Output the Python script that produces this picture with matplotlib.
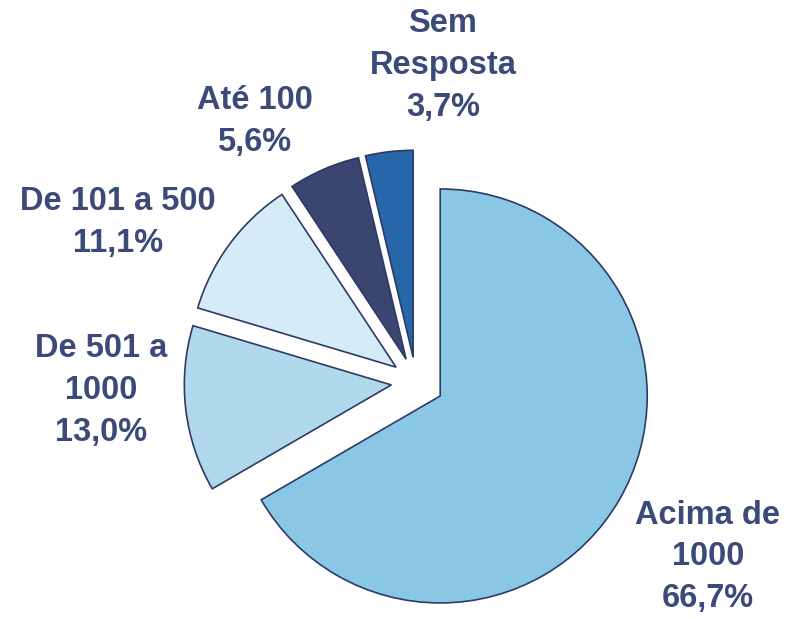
import numpy as np
import matplotlib.pyplot as plt

# dados do gráfico
categorias = ['Acima de\n1000', 'De 501 a\n1000', 'De 101 a 500', 'Até 100', 'Sem\nResposta']
percentuais = [66.7, 13.0, 11.1, 5.6, 3.7]
cores = ['#8AC7E4', '#B0DAEC', '#D5ECF6', '#3B4670', '#2766A8']

# layout (em unidades do raio)
explode = [0.135, 0.12, 0.12, 0.12, 0.12]
pos_rotulos = [(1.41, -0.845), (-1.52, -0.04), (-1.44, 0.77), (-0.78, 1.26), (0.13, 1.53)]
cor_texto = '#3B4A78'

fig = plt.figure(figsize=(7.87, 6.19), dpi=100)
ax = fig.add_axes([0, 0, 1, 1])

ax.pie(percentuais, colors=cores, explode=explode, startangle=90,
       counterclock=False, radius=1,
       wedgeprops=dict(edgecolor='#2E3A66', linewidth=1.2))

for nome, valor, (x, y) in zip(categorias, percentuais, pos_rotulos):
    texto = nome + '\n' + f'{valor:.1f}'.replace('.', ',') + '%'
    ax.text(x, y, texto, ha='center', va='center', fontsize=23.5,
            fontweight='bold', family='Liberation Sans', color=cor_texto,
            linespacing=1.45)

ax.set_aspect('equal')
ax.set_xlim(-416 / 207, (787 - 416) / 207)
ax.set_ylim(-(619 - 382) / 207, 382 / 207)
ax.axis('off')

fig.savefig('out.png', dpi=100)
